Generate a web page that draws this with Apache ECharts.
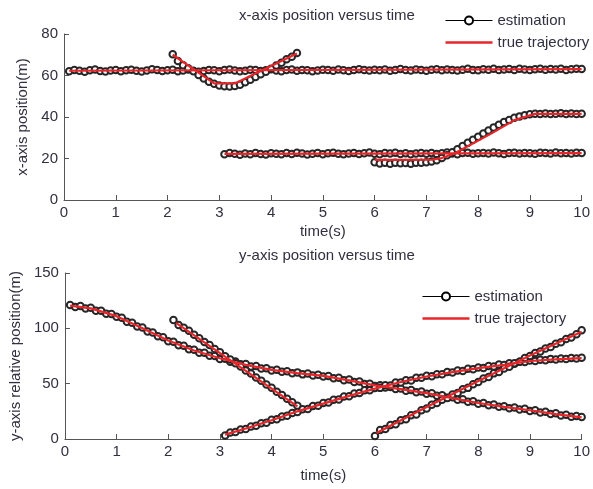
<!DOCTYPE html>
<html>
<head>
<meta charset="utf-8">
<script src="https://cdn.jsdelivr.net/npm/echarts@6/dist/echarts.min.js"></script>
<style>
  html, body { margin: 0; padding: 0; background: #fff; }
  #chart { width: 593px; height: 489px; }
</style>
</head>
<body>
<div id="chart"></div>
<script>
// Sampling period of the estimator (s)
const STEP = 0.1;

// ---- x-axis position (m), estimated tracks: start time + samples ----
const estX1Start = 0.1;
const estX1 = [
  62.0,62.6,62.3,61.8,62.5,62.9,62.2,61.9,62.4,62.7,
  62.1,62.5,62.8,62.3,61.9,62.4,63.0,62.6,62.2,62.5,
  62.8,62.1,62.4,62.9,62.3,61.8,62.2,62.7,62.5,62.1,
  62.6,62.9,62.4,62.0,62.3,62.8,62.6,62.2,62.5,63.0,
  62.4,62.1,62.6,62.9,62.3,62.7,62.5,62.0,62.4,62.8,
  62.6,62.3,62.9,62.5,62.2,62.7,63.0,62.6,62.4,62.8,
  62.5,62.9,62.3,62.7,63.1,62.6,62.4,62.9,62.7,62.3,
  62.8,63.0,62.5,62.9,62.6,62.4,62.8,63.2,62.7,62.5,
  63.0,62.8,63.3,62.6,62.9,63.1,62.7,63.2,62.9,62.6,
  63.0,63.3,62.8,63.1,62.9,63.2,62.7,63.0,63.3,63.1
];
const estX2Start = 2.1;
const estX2 = [
  70.2,67.0,65.0,63.5,62.0,60.3,58.5,57.0,56.0,55.2,
  54.8,54.7,55.0,55.6,56.8,58.0,59.3,60.6,61.8,63.2,
  64.8,66.2,67.8,69.0,70.8
];
const estX3Start = 3.1;
const estX3 = [
  22.0,22.6,22.3,21.8,22.4,22.1,22.7,22.2,21.9,22.5,
  22.3,22.0,22.6,22.2,22.8,22.4,21.9,22.3,22.6,22.1,
  22.5,22.8,22.3,22.0,22.4,22.7,22.2,22.5,22.9,22.3,
  22.1,22.6,22.4,22.8,22.2,22.5,22.0,22.4,22.7,22.3,
  22.6,22.2,22.5,22.9,22.4,22.1,22.6,22.8,22.3,22.5,
  22.7,22.4,22.9,22.5,22.2,22.6,22.8,22.4,22.7,22.5,
  22.3,22.8,22.6,22.4,22.9,22.5,22.7,22.4,22.8,22.6
];
const estX4Start = 6.0;
const estX4 = [
  18.2,17.6,17.9,17.5,18.0,17.7,17.8,17.5,17.9,18.0,
  18.2,18.5,19.2,20.3,21.6,23.0,24.5,26.0,27.6,29.0,
  30.5,32.0,33.5,35.0,36.3,37.6,38.6,39.6,40.3,40.9,
  41.3,41.6,41.5,41.7,41.4,41.6,41.8,41.5,41.7,41.4,
  41.6
];

// ---- x-axis position (m), true trajectories: [time, value] ----
const trueX1 = [[0.1, 62.3], [10, 63.1]];
const trueX2 = [[2.1, 70], [2.9, 56.2], [3.3, 56.2], [4.5, 70.6]];
const trueX3 = [[3.1, 22.2], [10, 22.6]];
const trueX4 = [[6.0, 19.3], [7.1, 19.4], [7.3, 20.2], [7.55, 22.5], [8.26, 32.1], [8.7, 38.5], [9.1, 41.5], [10, 41.5]];

// ---- y-axis relative position (m), estimated tracks ----
const estY1Start = 0.1;
const estY1 = [
  121.0,119.2,120.1,118.0,118.7,116.0,115.9,113.1,113.0,110.4,
  109.5,106.0,105.1,101.6,100.8,97.1,96.3,92.8,91.9,88.3,
  87.9,84.8,84.3,81.1,80.7,78.0,77.9,75.2,75.0,72.3,
  72.6,69.9,70.1,67.6,67.8,65.4,65.9,63.7,64.0,61.9,
  62.6,60.7,61.3,59.5,60.2,58.4,59.1,57.4,58.1,56.4,
  56.9,54.8,55.3,53.2,53.7,51.5,51.9,49.7,50.0,47.9,
  48.5,46.5,47.1,45.1,45.7,43.7,44.3,42.3,42.9,40.9,
  41.3,39.1,39.5,37.3,37.7,35.5,35.9,33.7,34.0,31.9,
  32.5,30.5,31.1,29.1,29.7,27.8,28.5,26.6,27.3,25.4,
  26.0,24.0,24.6,22.6,23.2,21.3,22.0,20.1,20.8,19.9
];
const estY2Start = 2.1;
const estY2 = [
  107.5,103.0,100.6,97.9,94.2,91.0,87.6,84.9,81.3,78.4,
  74.8,71.9,68.5,65.6,62.0,59.1,55.6,52.7,49.2,46.3,
  42.7,39.8,36.4,33.2,30.0
];
const estY3Start = 3.1;
const estY3 = [
  3.2,5.9,6.3,8.6,9.0,11.4,11.9,14.2,14.6,17.3,
  17.9,20.4,21.0,23.6,24.3,26.9,27.2,29.8,30.1,32.6,
  32.9,35.5,35.8,38.4,38.6,41.2,41.5,44.0,44.1,46.1,
  46.2,48.6,48.4,51.1,51.0,53.1,52.9,55.4,55.3,57.1,
  56.8,58.6,58.5,60.6,60.2,61.9,61.5,63.5,63.1,64.6,
  64.2,65.9,65.6,67.3,66.8,68.4,68.1,69.9,69.6,71.0,
  70.5,71.7,71.2,72.4,71.8,72.8,72.3,73.2,72.7,73.4
];
const estY4Start = 6.0;
const estY4 = [
  2.8,8.1,9.0,12.6,13.4,17.0,17.8,21.4,22.2,25.9,
  27.5,31.0,32.6,35.5,37.0,40.3,41.6,44.9,46.2,49.5,
  51.5,54.6,56.0,59.3,60.6,63.8,65.3,68.4,69.8,73.1,
  75.0,77.6,79.0,81.8,83.2,86.0,87.5,90.3,91.7,94.6,
  98.2
];

// ---- y-axis relative position (m), true trajectories ----
const trueY1 = [[0.1, 120.5], [0.5, 118], [1, 111], [1.5, 100], [2, 89], [2.5, 80], [3, 73], [3.5, 67],
  [4, 62.5], [4.5, 59.5], [5, 57], [5.5, 53], [6, 48.5], [6.5, 45], [7, 41.5], [7.5, 37], [8, 32.5],
  [8.5, 29], [9, 26], [9.5, 22.5], [10, 19.5]];
const trueY2 = [[2.15, 105], [4.5, 29.5]];
const trueY3 = [[3.1, 4], [3.5, 9.5], [4, 17], [4.5, 25], [5, 32], [5.5, 39], [6, 45.5], [6.5, 51.5],
  [7, 56.5], [7.5, 60.5], [8, 64], [8.5, 67], [9, 70.5], [9.5, 72], [10, 73]];
const trueY4 = [[6.03, 5.5], [7, 29], [8, 52.5], [9, 75.5], [10, 97]];

// Axis ticks
const timeTicks = { min: 0, max: 10, interval: 1 };
const xPosTicks = { min: 0, max: 80, interval: 20 };
const yPosTicks = { min: 0, max: 150, interval: 50 };

const FONT = '"Liberation Sans", Arial, sans-serif';
const FS = 15;
const TEXT = '#303040';
const AXIS = '#555555';
const RED = '#e8262a';
const MARK = '#262626';

function samples(start, values) {
  return values.map((v, i) => [Math.round((start + i * STEP) * 10) / 10, v]);
}

function estSeries(start, values, gi) {
  return {
    name: 'estimation', type: 'line', xAxisIndex: gi, yAxisIndex: gi,
    data: samples(start, values),
    symbol: 'emptyCircle', symbolSize: 6.5, showAllSymbol: true,
    lineStyle: { color: MARK, width: 1 },
    itemStyle: { color: MARK, borderColor: MARK, borderWidth: 0.8 },
    z: 2, silent: true
  };
}
function trueSeries(points, gi) {
  return {
    name: 'true trajectory', type: 'line', xAxisIndex: gi, yAxisIndex: gi,
    data: points, symbol: 'none',
    lineStyle: { color: RED, width: 2.2 },
    itemStyle: { color: RED },
    z: 3, silent: true
  };
}

function timeAxis(gi, gap) {
  return {
    type: 'value', gridIndex: gi, ...timeTicks,
    name: 'time(s)', nameLocation: 'middle', nameGap: gap,
    nameTextStyle: { fontFamily: FONT, fontSize: FS, color: TEXT },
    axisLine: { lineStyle: { color: AXIS, width: 1 } },
    axisTick: { inside: true, length: 5, lineStyle: { color: AXIS } },
    axisLabel: { fontFamily: FONT, fontSize: FS, color: TEXT, margin: 5 },
    splitLine: { show: false }
  };
}
function posAxis(gi, ticks, label, gap) {
  return {
    type: 'value', gridIndex: gi, ...ticks,
    name: label, nameLocation: 'middle', nameGap: gap, nameRotate: 90,
    nameTextStyle: { fontFamily: FONT, fontSize: FS, color: TEXT },
    axisLine: { show: true, lineStyle: { color: AXIS, width: 1 } },
    axisTick: { show: true, inside: true, length: 5, lineStyle: { color: AXIS } },
    axisLabel: { fontFamily: FONT, fontSize: FS, color: TEXT, margin: 6 },
    splitLine: { show: false }
  };
}
function legendAt(left, top) {
  return {
    left: left, top: top, orient: 'vertical',
    itemWidth: 47, itemHeight: 10, itemGap: 7,
    data: [
      { name: 'estimation', itemStyle: { color: '#000' }, lineStyle: { width: 1, color: '#000' } },
      { name: 'true trajectory', icon: 'path://M0,0H47V2.6H0Z', itemStyle: { color: RED } }
    ],
    textStyle: { fontFamily: FONT, fontSize: FS, lineHeight: 15, color: TEXT },
    selectedMode: false
  };
}

const chart = echarts.init(document.getElementById('chart'), null, { renderer: 'canvas' });
chart.setOption({
  animation: false,
  backgroundColor: '#fff',
  title: [
    { text: 'x-axis position versus time', left: 322, top: 3, textAlign: 'center',
      textStyle: { fontFamily: FONT, fontSize: FS, fontWeight: 'normal', color: TEXT } },
    { text: 'y-axis position versus time', left: 322, top: 243, textAlign: 'center',
      textStyle: { fontFamily: FONT, fontSize: FS, fontWeight: 'normal', color: TEXT } }
  ],
  legend: [legendAt(440, 8), legendAt(417, 284)],
  grid: [
    { left: 64, top: 34, width: 520, height: 166 },
    { left: 64, top: 273, width: 520, height: 166 }
  ],
  xAxis: [timeAxis(0, 24), timeAxis(1, 29)],
  yAxis: [posAxis(0, xPosTicks, 'x-axis position(m)', 27), posAxis(1, yPosTicks, 'y-axis relative position(m)', 37)],
  series: [
    estSeries(estX1Start, estX1, 0), estSeries(estX2Start, estX2, 0),
    estSeries(estX3Start, estX3, 0), estSeries(estX4Start, estX4, 0),
    trueSeries(trueX1, 0), trueSeries(trueX2, 0), trueSeries(trueX3, 0), trueSeries(trueX4, 0),
    estSeries(estY1Start, estY1, 1), estSeries(estY2Start, estY2, 1),
    estSeries(estY3Start, estY3, 1), estSeries(estY4Start, estY4, 1),
    trueSeries(trueY1, 1), trueSeries(trueY2, 1), trueSeries(trueY3, 1), trueSeries(trueY4, 1)
  ]
});
</script>
</body>
</html>
